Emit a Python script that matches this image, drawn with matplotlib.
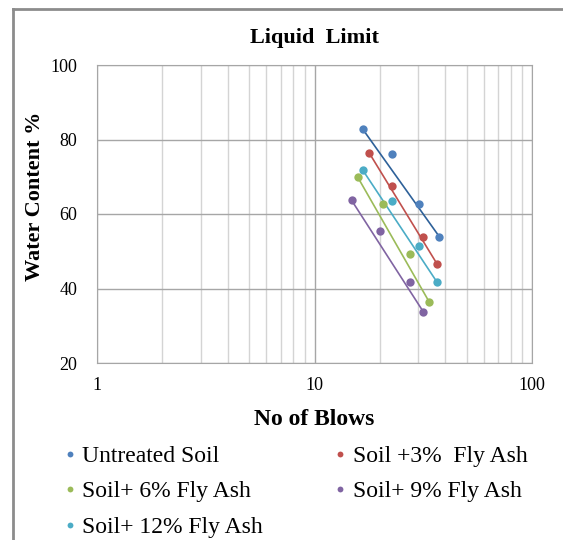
import matplotlib
matplotlib.use("Agg")
import matplotlib.pyplot as plt
import numpy as np
from matplotlib.lines import Line2D

# Data (blows, water content %)
series_names = ["Untreated Soil", "Soil +3%  Fly Ash", "Soil+ 6% Fly Ash",
                "Soil+ 9% Fly Ash", "Soil+ 12% Fly Ash"]
blows_untreated = [16.7, 22.7, 30.3, 37.5]
wc_untreated = [82.7, 76.0, 62.7, 53.9]
blows_3 = [17.8, 22.7, 31.6, 36.5]
wc_3 = [76.5, 67.4, 53.7, 46.7]
blows_6 = [15.8, 20.7, 27.6, 33.6]
wc_6 = [69.9, 62.7, 49.3, 36.5]
blows_9 = [14.8, 19.9, 27.6, 31.6]
wc_9 = [63.7, 55.5, 41.8, 33.8]
blows_12 = [16.7, 22.7, 30.3, 36.5]
wc_12 = [71.7, 63.5, 51.5, 41.8]

marker_colors = ["#4F81BD", "#C0504D", "#9BBB59", "#8064A2", "#4BACC6"]
line_colors = ["#2E6199", "#C0504D", "#9BBB59", "#8064A2", "#4BACC6"]

plt.rcParams["font.family"] = ["Liberation Serif", "DejaVu Serif"]

fig = plt.figure(figsize=(5.63, 5.4), dpi=100)
ax = fig.add_axes([97 / 563, 1 - 363 / 540, 435 / 563, 298 / 540])

all_blows = [blows_untreated, blows_3, blows_6, blows_9, blows_12]
all_wc = [wc_untreated, wc_3, wc_6, wc_9, wc_12]

handles = []
for name, bx, wy, mc, lc in zip(series_names, all_blows, all_wc, marker_colors, line_colors):
    # line joining the first and last reading of each series
    ax.plot([bx[0], bx[-1]], [wy[0], wy[-1]], color=lc, lw=1.2, zorder=3)
    h, = ax.plot(bx, wy, "o", color=mc, ms=6, markeredgewidth=0, zorder=4, label=name)
    handles.append(h)

ax.set_xscale("log")
ax.set_xlim(1, 100)
ax.set_ylim(20, 100)
ax.set_yticks([20, 40, 60, 80, 100])
ax.set_xticks([1, 10, 100])
ax.set_xticklabels(["1", "10", "100"])
ax.grid(True, which="major", color="#a6a6a6", lw=1.0)
ax.grid(True, which="minor", axis="x", color="#d4d4d4", lw=1.0)
ax.set_axisbelow(True)
ax.tick_params(which="both", length=0, labelsize=13, colors="black")
ax.tick_params(axis="y", pad=14)
ax.tick_params(axis="x", pad=10)
for s in ax.spines.values():
    s.set_color("#a6a6a6")

ax.set_title("Liquid  Limit", fontsize=16, fontweight="bold", pad=16)
ax.set_xlabel("No of Blows", fontsize=17, fontweight="bold", labelpad=11)
ax.set_ylabel("Water Content %", fontsize=16, fontweight="bold")
ax.yaxis.set_label_coords(-0.12, 0.56)

order = [0, 2, 4, 1, 3]
leg = fig.legend([handles[i] for i in order], [series_names[i] for i in order],
                 loc="upper left", bbox_to_anchor=(42 / 563, 1 - 424 / 540),
                 ncol=2, frameon=False, fontsize=17, markerscale=0.7,
                 handlelength=0.55, handletextpad=0.25, columnspacing=3.0,
                 labelspacing=0.6)

# outer chart border (cropped on right and bottom)
fig.add_artist(Line2D([13 / 563, 13 / 563], [0, 1 - 9 / 540], color="#8c8c8c", lw=2,
                      transform=fig.transFigure))
fig.add_artist(Line2D([13 / 563, 1], [1 - 9 / 540, 1 - 9 / 540], color="#8c8c8c", lw=2,
                      transform=fig.transFigure))

fig.savefig("out.png", dpi=100)
